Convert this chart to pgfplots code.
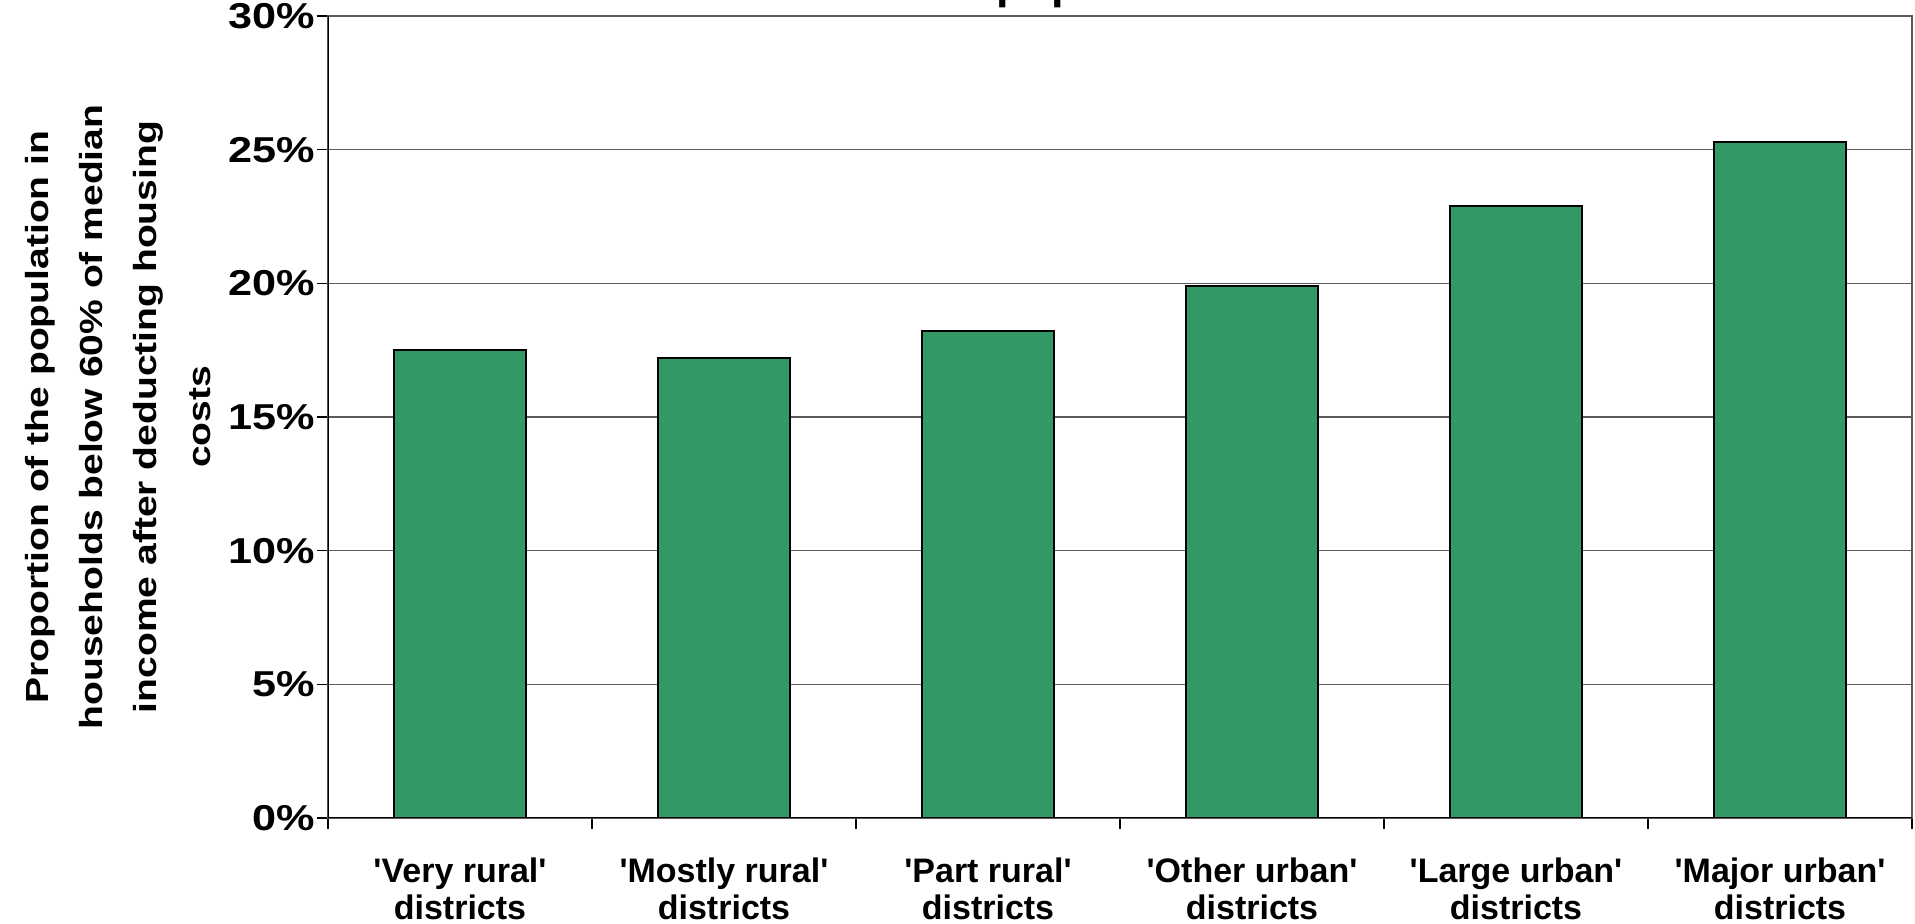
\documentclass[border=0pt]{standalone}
\usepackage{pgfplots}
\pgfplotsset{compat=1.18}
\usepackage{pgfplotstable}
\usepackage{fontspec}
\setmainfont{Liberation Sans}[Ligatures=TeXOff]
\newfontfamily\tickfont[FakeStretch=1.2]{Liberation Sans Bold}
\newfontfamily\ylfont[FakeStretch=1.22]{Liberation Sans Bold}
\newfontfamily\titlefont{Liberation Sans Bold}
\definecolor{bargreen}{RGB}{51,153,102}
\definecolor{gridgray}{RGB}{90,90,90}
\pgfplotstableread{
x y
1 17.5
2 17.2
3 18.2
4 19.9
5 22.9
6 25.3
}\datatable

\begin{document}
\begin{tikzpicture}
\begin{axis}[
  at={(0,0)}, anchor=south west,
  scale only axis, width=792pt, height=401pt,
  xmin=0.5, xmax=6.5, ymin=0, ymax=30,
  xtick={0.5,1.5,2.5,3.5,4.5,5.5,6.5},
  x tick label as interval,
  xticklabels={{'Very rural'\\districts},{'Mostly rural'\\districts},{'Part rural'\\districts},{'Other urban'\\districts},{'Large urban'\\districts},{'Major urban'\\districts}},
  xticklabel style={align=center, font=\bfseries\fontsize{17}{18.5}\selectfont, yshift=-11pt},
  ytick={0,5,10,15,20,25,30},
  yticklabel={\pgfmathprintnumber{\tick}\%},
  yticklabel style={font=\tickfont\fontsize{18}{21}\selectfont, xshift=2.5pt},
  /pgf/number format/assume math mode=true,
  xtick pos=lower, ytick pos=left,
  tick align=outside,
  major tick length=5.5pt,
  tick style={black, line width=0.6pt},
  ymajorgrids,
  major grid style={gridgray, line width=0.6pt},
  axis line style={gridgray, line width=0.8pt},
  ybar, bar width=66pt,
]
\addplot[fill=bargreen, draw=black, line width=1pt] table[x=x, y=y] {\datatable};
\draw[black, line width=0.8pt] (axis cs:0.5,0) -- (axis cs:6.5,0);
\draw[black, line width=0.6pt] (axis cs:0.5,0) -- (axis cs:0.5,30);
\end{axis}
\node[font=\titlefont\fontsize{22.5}{27}\selectfont, anchor=base west, inner sep=0pt] at (334pt,409.5pt) {population};
\node[rotate=90, align=center, font=\ylfont\fontsize{16}{27}\selectfont] at (-105pt,200.5pt) {Proportion of the population in\\households below 60\% of median\\income after deducting housing\\costs};
\pgfresetboundingbox
\path[use as bounding box] (-164pt,-53pt) rectangle (793.5pt,409pt);
\end{tikzpicture}
\end{document}
